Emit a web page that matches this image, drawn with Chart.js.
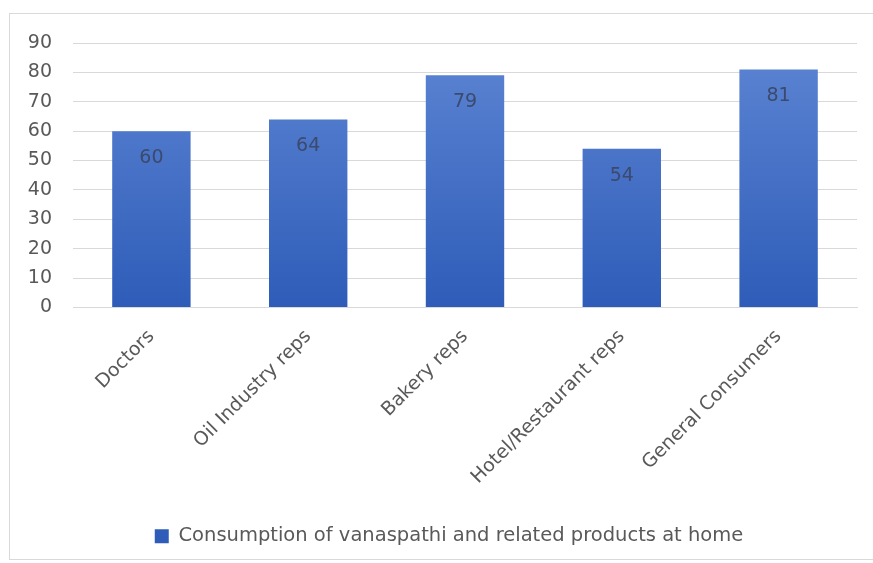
<!DOCTYPE html>
<html>
<head>
<meta charset="utf-8">
<script src="https://cdn.jsdelivr.net/npm/chart.js@4/dist/chart.umd.min.js"></script>
<style>
  html, body { margin: 0; padding: 0; background: #ffffff; }
  #wrap { position: relative; width: 873px; height: 563px; overflow: hidden; }
  #frame { position: absolute; left: 9px; top: 13px; width: 880px; height: 547px; border: 1px solid #d9d9d9; box-sizing: border-box; }
  canvas { position: absolute; left: 0; top: 0; }
</style>
</head>
<body>
<div id="wrap">
  <div id="frame"></div>
  <canvas id="chart" width="873" height="563"></canvas>
</div>
<script>
// Survey groups and share reporting home consumption
const categories = ['Doctors', 'Oil Industry reps', 'Bakery reps', 'Hotel/Restaurant reps', 'General Consumers'];
const consumption = [60, 64, 79, 54, 81];
const seriesName = 'Consumption of vanaspathi and related products at home';
const yTicks = [0, 10, 20, 30, 40, 50, 60, 70, 80, 90];

const FONT = "'DejaVu Sans', sans-serif";
const TEXT = '#595959';

// Vertical blue gradient spanning the plot area
function barFill(ctx) {
  const chart = ctx.chart;
  const area = chart.chartArea;
  if (!area) return '#4472c4';
  const g = chart.ctx.createLinearGradient(0, area.top, 0, area.bottom);
  g.addColorStop(0, '#5d85d3');
  g.addColorStop(1, '#2e5cb8');
  return g;
}

// Writes each bar's value just inside its top edge
const valueLabels = {
  id: 'valueLabels',
  afterDatasetsDraw(chart) {
    const c = chart.ctx;
    chart.data.datasets.forEach((ds, i) => {
      chart.getDatasetMeta(i).data.forEach((bar, j) => {
        c.save();
        c.font = "19px " + FONT;
        c.fillStyle = '#3b4a6e';
        c.textAlign = 'center';
        c.textBaseline = 'middle';
        c.fillText(String(ds.data[j]), bar.x, bar.y + 27);
        c.restore();
      });
    });
  }
};

// Centres the legend row under the plot area rather than the whole canvas
const legendShift = {
  id: 'legendShift',
  afterLayout(chart) {
    const lg = chart.legend;
    if (lg) { lg.left += 16; lg.right += 16; }
  }
};

new Chart(document.getElementById('chart'), {
  type: 'bar',
  data: {
    labels: categories,
    datasets: [{
      label: seriesName,
      data: consumption,
      backgroundColor: barFill,
      borderWidth: 0,
      categoryPercentage: 1.0,
      barPercentage: 0.5
    }]
  },
  options: {
    responsive: false,
    animation: false,
    layout: { padding: { top: 43, left: 9, right: 16, bottom: 7 } },
    plugins: {
      legend: {
        position: 'bottom',
        labels: {
          color: TEXT,
          font: { family: FONT, size: 19.5 },
          boxWidth: 14,
          boxHeight: 14,
          padding: 10
        }
      },
      tooltip: { enabled: false }
    },
    scales: {
      x: {
        grid: { display: false, drawTicks: false },
        border: { display: true, color: '#d9d9d9' },
        ticks: {
          color: TEXT,
          font: { family: FONT, size: 19 },
          maxRotation: 45,
          minRotation: 45,
          padding: 18
        },
        afterFit(scale) { scale.height = 209; }
      },
      y: {
        min: 0,
        max: 90,
        afterBuildTicks(scale) { scale.ticks = yTicks.map(v => ({ value: v })); },
        grid: { color: '#d9d9d9', drawTicks: false },
        border: { display: false },
        ticks: {
          color: TEXT,
          font: { family: FONT, size: 19 },
          padding: 21
        },
        afterFit(scale) { scale.width = 64; }
      }
    }
  },
  plugins: [valueLabels, legendShift]
});
</script>
</body>
</html>
